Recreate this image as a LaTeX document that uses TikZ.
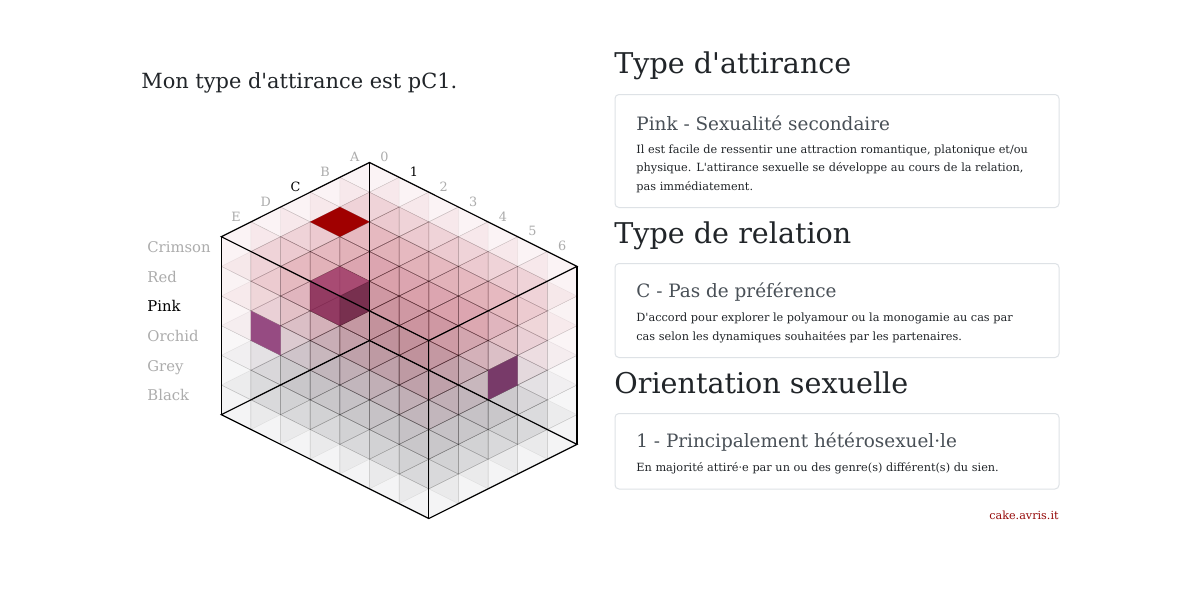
\documentclass[tikz,border=0pt]{standalone}
\usepackage{fontspec}
\setmainfont{DejaVu Serif}[Ligatures=TeXOff]
\usetikzlibrary{positioning}
\definecolor{inkc}{RGB}{33,37,41}
\definecolor{cardtitlec}{RGB}{73,80,87}
\definecolor{cardline}{RGB}{222,226,230}
\definecolor{dimc}{RGB}{172,172,172}
\definecolor{linkc}{RGB}{150,10,10}
\definecolor{crimsonc}{RGB}{185,35,60}
\definecolor{redc}{RGB}{175,30,50}
\definecolor{pinkc}{RGB}{185,60,85}
\definecolor{orchidc}{RGB}{150,115,135}
\definecolor{greyc}{RGB}{95,95,100}
\definecolor{blackc}{RGB}{55,55,60}
\definecolor{seltop}{RGB}{160,60,105}
\definecolor{selleft}{RGB}{135,40,85}
\definecolor{selright}{RGB}{105,30,65}
\definecolor{marktop}{RGB}{160,0,0}
\definecolor{markleft}{RGB}{150,75,130}
\definecolor{markright}{RGB}{120,58,105}
\tikzset{
  cell/.style={fill=#1, fill opacity=0.05, draw=black, draw opacity=0.065, line width=0.25pt},
  boxline/.style={line width=0.6pt, black},
  dimlab/.style={text=dimc},
  sellab/.style={text=black},
  axislab/.style={font=\fontsize{6.4}{7}\selectfont, inner sep=0pt, yshift=6.4pt},
  rowlab/.style={font=\fontsize{7.4}{9}\selectfont, anchor=base west, inner sep=0pt},
  heading/.style={font=\fontsize{14.3}{17}\selectfont, text=inkc, anchor=base west, inner sep=0pt},
  cardtitle/.style={font=\fontsize{9.2}{11}\selectfont, text=cardtitlec, anchor=base west, inner sep=0pt},
  cardtext/.style={font=\fontsize{5.65}{7}\selectfont, text=inkc, anchor=base west, inner sep=0pt},
  card/.style={draw=cardline, line width=0.5pt, rounded corners=2pt}
}
\begin{document}
\begin{tikzpicture}[x=0.5pt,y=-0.5pt]
\fill[white] (0,0) rectangle (1200,600);
\useasboundingbox (0,0) rectangle (1200,600);

\node[heading, font=\fontsize{10.45}{13}\selectfont] (title) at (141,88.3) {Mon type d'attirance est pC1.};

\foreach \r/\s [count=\i from 0] in {Crimson/dimlab,Red/dimlab,Pink/sellab,Orchid/dimlab,Grey/dimlab,Black/dimlab}
  \node[rowlab,\s] (row\r) at (147,{252.5+29.67*\i}) {\r};

\begin{scope}[shift={(369.5,162.5)}, x={(-14.82pt,-7.42pt)}, y={(14.82pt,-7.42pt)}, z={(0pt,-14.83pt)}]
  \foreach \k/\c in {5/blackc,4/greyc,3/orchidc,2/pinkc,1/redc,0/crimsonc}
    \foreach \a in {0,...,4}
      \foreach \n in {0,...,6}{
        \draw[cell=\c] (\a,\n,\k) -- ++(1,0,0) -- ++(0,1,0) -- ++(-1,0,0) -- cycle;
        \draw[cell=\c] (\a+1,\n,\k) -- ++(0,1,0) -- ++(0,0,1) -- ++(0,-1,0) -- cycle;
        \draw[cell=\c] (\a,\n+1,\k) -- ++(1,0,0) -- ++(0,0,1) -- ++(-1,0,0) -- cycle;
      }

  \fill[marktop] (2,1,0) -- (3,1,0) -- (3,2,0) -- (2,2,0) -- cycle;
  \fill[markleft] (5,1,2) -- (5,2,2) -- (5,2,3) -- (5,1,3) -- cycle;
  \fill[markright] (2,7,2) -- (3,7,2) -- (3,7,3) -- (2,7,3) -- cycle;

  \fill[seltop, fill opacity=0.85] (2,1,2) -- (3,1,2) -- (3,2,2) -- (2,2,2) -- cycle;
  \fill[selleft, fill opacity=0.85] (3,1,2) -- (3,2,2) -- (3,2,3) -- (3,1,3) -- cycle;
  \fill[selright, fill opacity=0.85] (2,2,2) -- (3,2,2) -- (3,2,3) -- (2,2,3) -- cycle;

  \coordinate (TB) at (0,0,0);
  \coordinate (TL) at (5,0,0);
  \coordinate (TR) at (0,7,0);
  \coordinate (TF) at (5,7,0);
  \coordinate (BB) at (0,0,6);
  \coordinate (BL) at (5,0,6);
  \coordinate (BR) at (0,7,6);
  \coordinate (BF) at (5,7,6);
  \draw[boxline] (TB) -- (TL) -- (TF) -- (TR) -- cycle;
  \draw[boxline] (BB) -- (BL) -- (BF) -- (BR) -- cycle;
  \draw[boxline] (TB) -- (BB) (TL) -- (BL) (TF) -- (BF) (TR) -- (BR);

  \foreach \l/\s [count=\i from 0] in {A/dimlab,B/dimlab,C/sellab,D/dimlab,E/dimlab}
    \node[axislab,\s] (col\l) at (\i+0.5,0,0) {\l};
  \foreach \l/\s [count=\i from 0] in {0/dimlab,1/sellab,2/dimlab,3/dimlab,4/dimlab,5/dimlab,6/dimlab}
    \node[axislab,\s] (num\l) at (0,\i+0.5,0) {\l};
\end{scope}

\node[heading] (hattr) at (614,73.3) {Type d'attirance};
\draw[card] (615,94.5) rectangle (1059,207.5);
\node[cardtitle] (tattr) at (636,130) {Pink - Sexualité secondaire};
\node[cardtext] (attr1) at (636,153.3) {Il est facile de ressentir une attraction romantique, platonique et/ou};
\node[cardtext] (attr2) at (636,171.7) {physique. L'attirance sexuelle se développe au cours de la relation,};
\node[cardtext] (attr3) at (636,190.3) {pas immédiatement.};

\node[heading] (hrel) at (614,243.3) {Type de relation};
\draw[card] (615,263.5) rectangle (1059,357.5);
\node[cardtitle] (trel) at (636,297.3) {C - Pas de préférence};
\node[cardtext] (rel1) at (636,321) {D'accord pour explorer le polyamour ou la monogamie au cas par};
\node[cardtext] (rel2) at (636,340) {cas selon les dynamiques souhaitées par les partenaires.};

\node[heading] (hori) at (614,393.3) {Orientation sexuelle};
\draw[card] (615,413.5) rectangle (1059,489);
\node[cardtitle] (tori) at (636,447.3) {1 - Principalement hétérosexuel·le};
\node[cardtext] (ori1) at (636,471) {En majorité attiré·e par un ou des genre(s) différent(s) du sien.};

\node[cardtext, anchor=base east, text=linkc, font=\fontsize{5.6}{7}\selectfont] (link) at (1059,519.3) {cake.avris.it};
\end{tikzpicture}
\end{document}
